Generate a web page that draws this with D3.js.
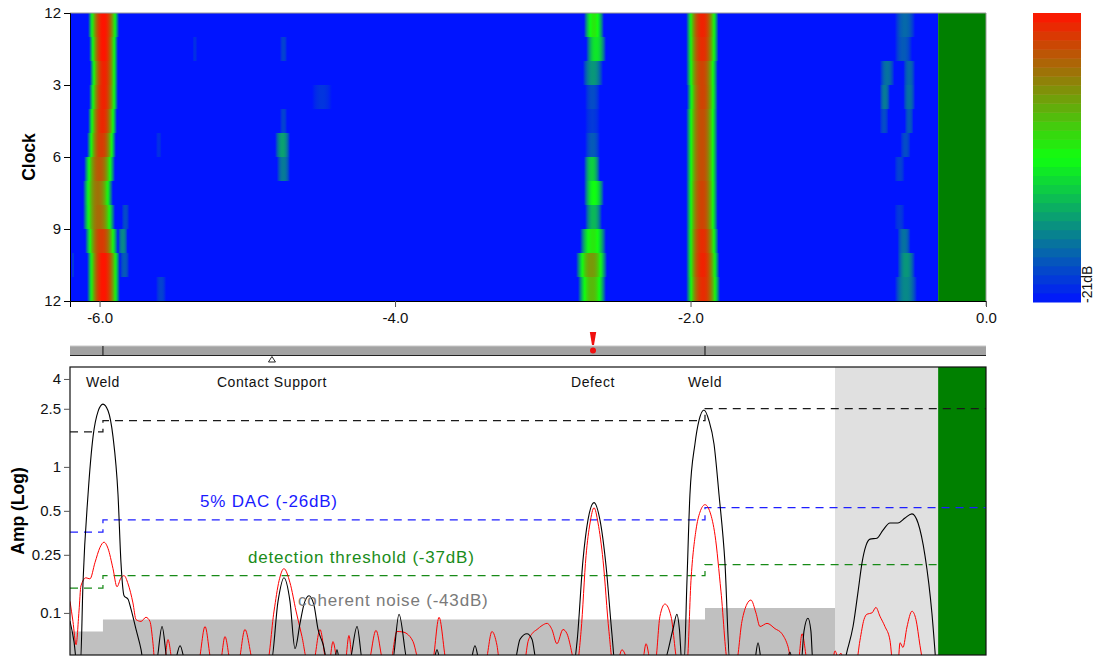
<!DOCTYPE html>
<html><head><meta charset="utf-8">
<script src="https://cdn.jsdelivr.net/npm/d3@7"></script>
<style>
body{margin:0;background:#fff}
svg text{font-family:"Liberation Sans",Arial,sans-serif}
</style></head>
<body><svg id="chart" width="1096" height="657"></svg>
<script>
// ---------------- data ----------------
const distTicks = [-6, -4, -2, 0];
const clockTickPos = [0, 3, 6, 9, 12];
const clockTickLabels = ["12", "3", "6", "9", "12"];
const ampTicks = [4, 2.5, 1, 0.5, 0.25, 0.1];
const ampTickLabels = ["4", "2.5", "1", "0.5", "0.25", "0.1"];

// heat-map blobs per clock row: [row, start, end, peak level 0..1]
const weld1Blobs = [
  [0,-6.078,-5.868,1.0],[1,-6.071,-5.875,1.0],[2,-6.065,-5.875,0.97],[3,-6.071,-5.875,0.97],
  [4,-6.078,-5.882,0.96],[5,-6.085,-5.889,0.92],[6,-6.105,-5.895,0.86],[7,-6.112,-5.909,0.8],
  [8,-6.112,-5.895,0.82],[9,-6.098,-5.875,0.92],[10,-6.085,-5.862,1.0],[11,-6.085,-5.862,1.0]
];
const weld2Blobs = [
  [0,-2.030,-1.810,0.97],[1,-2.030,-1.810,0.95],[2,-2.030,-1.815,0.9],[3,-2.025,-1.815,0.9],
  [4,-2.030,-1.815,0.88],[5,-2.030,-1.815,0.88],[6,-2.030,-1.815,0.88],[7,-2.030,-1.815,0.9],
  [8,-2.030,-1.815,0.9],[9,-2.030,-1.810,0.95],[10,-2.030,-1.805,0.97],[11,-2.030,-1.800,0.95]
];
const defectBlobs = [
  [0,-2.721,-2.586,0.55],[1,-2.707,-2.572,0.45],[2,-2.728,-2.592,0.28],[3,-2.714,-2.613,0.12],
  [4,-2.714,-2.613,0.08],[5,-2.714,-2.613,0.15],[6,-2.721,-2.613,0.4],[7,-2.721,-2.586,0.5],
  [8,-2.714,-2.599,0.35],[9,-2.748,-2.572,0.55],[10,-2.775,-2.565,0.72],[11,-2.762,-2.572,0.65]
];
const faintBlobs = [
  [0,-0.617,-0.480,0.18],
  [1,-4.779,-4.731,0.1],[1,-5.37,-5.34,0.06],[1,-0.617,-0.500,0.15],
  [2,-0.718,-0.620,0.2],[2,-0.560,-0.480,0.18],
  [3,-4.562,-4.427,0.07],[3,-0.720,-0.650,0.22],[3,-0.560,-0.480,0.2],
  [4,-4.779,-4.731,0.1],[4,-0.720,-0.660,0.12],[4,-0.550,-0.490,0.15],
  [5,-4.812,-4.711,0.3],[5,-5.618,-5.580,0.06],[5,-0.580,-0.510,0.12],
  [6,-4.800,-4.711,0.22],[6,-0.620,-0.550,0.1],
  [8,-5.850,-5.800,0.12],[8,-0.620,-0.550,0.08],
  [9,-5.875,-5.810,0.25],[9,-0.600,-0.510,0.2],
  [10,-5.862,-5.800,0.15],[10,-0.600,-0.480,0.28],[10,-6.190,-6.170,0.08],
  [11,-5.618,-5.550,0.1],[11,-0.617,-0.467,0.25]
];
const heatStart = -6.2, deadZoneStart = -0.324, heatEnd = 0;

// amplitude traces [distance, amplitude]
const blackTrace = [
  [-6.2,0.088],[-6.173,0.0636],[-6.153,0.045],[-6.129,0.045],[-6.112,0.161],[-6.078,0.645],
  [-6.044,1.61],[-6.010,2.40],[-5.977,2.69],[-5.943,2.43],[-5.909,1.61],[-5.875,0.645],
  [-5.855,0.221],[-5.834,0.131],[-5.807,0.124],[-5.787,0.106],[-5.753,0.077],[-5.719,0.056],
  [-5.702,0.045],[-5.618,0.045],[-5.577,0.0807],[-5.537,0.045],[-5.496,0.045],[-5.455,0.0596],
  [-5.415,0.045],[-4.840,0.045],[-4.792,0.120],[-4.752,0.174],[-4.711,0.120],[-4.677,0.0569],
  [-4.643,0.085],[-4.616,0.115],[-4.582,0.131],[-4.548,0.112],[-4.521,0.077],[-4.488,0.0615],
  [-4.454,0.045],[-4.413,0.045],[-4.393,0.056],[-4.372,0.045],[-4.312,0.045],[-4.257,0.0807],
  [-4.217,0.045],[-4.020,0.045],[-3.973,0.098],[-3.912,0.045],[-3.743,0.045],[-3.716,0.056],
  [-3.689,0.045],[-3.493,0.045],[-3.459,0.0596],[-3.425,0.045],[-3.195,0.045],[-3.154,0.066],
  [-3.107,0.072],[-3.073,0.066],[-3.039,0.045],[-2.789,0.045],[-2.768,0.0636],[-2.728,0.229],
  [-2.694,0.433],[-2.653,0.569],[-2.613,0.433],[-2.572,0.211],[-2.532,0.072],[-2.511,0.045],
  [-2.186,0.045],[-2.119,0.077],[-2.092,0.098],[-2.075,0.077],[-2.058,0.045],[-2.044,0.045],
  [-2.024,0.166],[-2.004,0.645],[-1.970,1.435],[-1.943,2.07],[-1.909,2.45],[-1.875,2.07],
  [-1.841,1.435],[-1.807,0.645],[-1.767,0.221],[-1.733,0.045],[-1.570,0.045],[-1.543,0.0625],
  [-1.516,0.045],[-1.354,0.045],[-1.327,0.054],[-1.306,0.045],[-1.252,0.045],[-1.232,0.075],
  [-1.205,0.092],[-1.185,0.075],[-1.171,0.045],[-0.968,0.045],[-0.934,0.058],[-0.900,0.0807],
  [-0.866,0.14],[-0.839,0.221],[-0.812,0.29],[-0.785,0.32],[-0.738,0.325],[-0.697,0.369],
  [-0.650,0.413],[-0.596,0.413],[-0.548,0.447],[-0.501,0.477],[-0.460,0.413],[-0.413,0.247],
  [-0.366,0.0995],[-0.339,0.045]
];
const redTrace = [
  [-6.2,0.12],[-6.180,0.0875],[-6.159,0.0606],[-6.139,0.103],[-6.126,0.153],[-6.092,0.174],
  [-6.065,0.171],[-6.031,0.221],[-5.997,0.281],[-5.970,0.305],[-5.943,0.277],[-5.909,0.201],
  [-5.882,0.151],[-5.855,0.174],[-5.834,0.180],[-5.807,0.158],[-5.774,0.117],[-5.753,0.090],
  [-5.719,0.0875],[-5.686,0.0933],[-5.659,0.0875],[-5.638,0.0615],[-5.625,0.045],[-5.564,0.045],
  [-5.537,0.0657],[-5.503,0.045],[-5.334,0.045],[-5.286,0.0807],[-5.239,0.045],[-5.185,0.045],
  [-5.151,0.0689],[-5.110,0.045],[-5.063,0.045],[-5.016,0.077],[-4.955,0.045],[-4.867,0.045],
  [-4.819,0.103],[-4.785,0.166],[-4.752,0.201],[-4.711,0.161],[-4.670,0.103],[-4.630,0.0689],
  [-4.589,0.045],[-4.555,0.045],[-4.508,0.077],[-4.461,0.045],[-4.447,0.045],[-4.420,0.0636],
  [-4.386,0.045],[-4.339,0.045],[-4.312,0.070],[-4.285,0.045],[-4.183,0.045],[-4.129,0.0759],
  [-4.075,0.045],[-4.034,0.045],[-3.987,0.0746],[-3.946,0.074],[-3.919,0.072],[-3.878,0.0636],
  [-3.831,0.045],[-3.750,0.045],[-3.702,0.0933],[-3.648,0.045],[-3.391,0.045],[-3.344,0.0746],
  [-3.310,0.060],[-3.290,0.045],[-3.127,0.045],[-3.100,0.0636],[-3.073,0.072],[-3.039,0.077],
  [-3.005,0.082],[-2.971,0.0848],[-2.938,0.077],[-2.904,0.0615],[-2.863,0.077],[-2.836,0.072],
  [-2.802,0.0525],[-2.789,0.045],[-2.768,0.045],[-2.741,0.0746],[-2.707,0.247],[-2.680,0.413],
  [-2.653,0.525],[-2.626,0.413],[-2.592,0.229],[-2.552,0.0746],[-2.525,0.045],[-2.498,0.045],
  [-2.464,0.056],[-2.410,0.045],[-2.328,0.045],[-2.301,0.0615],[-2.267,0.045],[-2.240,0.045],
  [-2.207,0.0948],[-2.173,0.115],[-2.132,0.0948],[-2.085,0.045],[-2.024,0.045],[-1.997,0.166],
  [-1.963,0.369],[-1.936,0.49],[-1.902,0.551],[-1.868,0.49],[-1.834,0.34],[-1.794,0.141],
  [-1.746,0.045],[-1.692,0.045],[-1.652,0.0875],[-1.618,0.115],[-1.591,0.1225],[-1.557,0.100],
  [-1.530,0.0807],[-1.482,0.0848],[-1.428,0.078],[-1.381,0.072],[-1.340,0.0587],[-1.313,0.045],
  [-1.273,0.045],[-1.245,0.072],[-1.205,0.045],[-1.042,0.045],[-1.022,0.055],[-1.002,0.050],
  [-0.982,0.053],[-0.961,0.045],[-0.880,0.045],[-0.853,0.065],[-0.826,0.090],[-0.806,0.098],
  [-0.772,0.100],[-0.745,0.109],[-0.718,0.095],[-0.684,0.0807],[-0.650,0.065],[-0.630,0.045],
  [-0.596,0.045],[-0.582,0.0625],[-0.562,0.058],[-0.535,0.080],[-0.501,0.1027],[-0.474,0.090],
  [-0.447,0.060],[-0.427,0.045]
];

// threshold step lines: level for each segment between segment bounds
const segBounds = [-6.2, -5.977, -1.902];
const refLevels = [1.74, 2.07, 2.51];        // reference (black dashed)
const dacLevels = [0.357, 0.433, 0.525];     // 5% DAC (-26dB)
const detectLevels = [0.148, 0.18, 0.214];   // detection threshold (-37dB)
const noiseLevels = [0.0746, 0.0903, 0.108]; // coherent noise (-43dB)
const noiseEnd = -1.022;

const featureNames = ["Weld", "Contact Support", "Defect", "Weld"];
const featurePos = [-5.977, -4.833, -2.660, -1.902];
const featureKinds = ["weld", "support", "defect", "weld"];

const thresholdLabels = ["5% DAC (-26dB)", "detection threshold (-37dB)", "coherent noise (-43dB)"];
const thresholdLabelX = [-5.320, -4.995, -4.657];
const colorbarLabel = "-21dB";

// ---------------- layout ----------------
const svg = d3.select("#chart");
const L = 70, R = 986;
const topY0 = 13, topY1 = 301;
const botY0 = 367, botY1 = 655;

const x = d3.scaleLinear().domain([-6.2, 0]).range([L, R]);
const yClock = d3.scaleLinear().domain([0, 12]).range([topY0, topY1]);
const yAmp = d3.scaleLog().domain([0.0515, 4.83]).range([botY1, botY0]);
const heatColor = d3.scaleLinear().domain([0, 0.5, 1]).range(["#0014ff", "#10ff10", "#ff1400"]);

const defs = svg.append("defs");

// ---------- top heat map ----------
const gTop = svg.append("g");
d3.range(12).forEach(r => {
  gTop.append("rect")
    .attr("x", x(heatStart)).attr("y", yClock(r))
    .attr("width", x(deadZoneStart) - x(heatStart)).attr("height", yClock(r + 1) - yClock(r))
    .attr("fill", heatColor(0));
});
const allBlobs = [...faintBlobs, ...defectBlobs, ...weld2Blobs, ...weld1Blobs];
const stops = d3.range(0, 1.0001, 0.04);
allBlobs.forEach((b, i) => {
  const [row, s, e, p] = b;
  const gid = "hb" + i;
  const grad = defs.append("linearGradient").attr("id", gid).attr("x1", "0").attr("x2", "1").attr("y1", "0").attr("y2", "0");
  stops.forEach(t => {
    const u = Math.abs(2 * t - 1);
    grad.append("stop").attr("offset", t).attr("stop-color", heatColor(p * (1 - Math.pow(u, 2.2))));
  });
  gTop.append("rect")
    .attr("x", x(s)).attr("y", yClock(row))
    .attr("width", x(e) - x(s)).attr("height", yClock(row + 1) - yClock(row))
    .attr("fill", `url(#${gid})`);
});
gTop.append("rect")
  .attr("x", x(deadZoneStart)).attr("y", topY0)
  .attr("width", x(heatEnd) - x(deadZoneStart)).attr("height", topY1 - topY0)
  .attr("fill", "#008000");
// frame top/right
svg.append("path").attr("d", `M${L},${topY0}H${R}V${topY1 + 5}`).attr("fill", "none").attr("stroke", "#999").attr("stroke-width", 1);

const axClock = svg.append("g").attr("transform", `translate(${L},0)`)
  .call(d3.axisLeft(yClock).tickValues(clockTickPos).tickFormat((d, i) => clockTickLabels[i]).tickSize(6).tickPadding(3));
const axDist = svg.append("g").attr("transform", `translate(0,${topY1})`)
  .call(d3.axisBottom(x).tickValues(distTicks).tickFormat(d => d.toFixed(1)).tickSize(6).tickPadding(5));
[axClock, axDist].forEach(a => {
  a.selectAll("text").attr("font-size", 15).attr("fill", "#111").style("font-family", '"Liberation Sans",Arial,sans-serif');
  a.select(".domain").attr("stroke", "#000");
});
axDist.selectAll(".tick line").attr("stroke", "#555");

svg.append("text").attr("transform", `translate(35,157) rotate(-90)`)
  .attr("text-anchor", "middle").attr("font-size", 17.5).attr("font-weight", "bold").text("Clock");

// ---------- colorbar ----------
const cbX = 1033, cbW = 48;
const cbScale = d3.scaleLinear().domain([0, 1]).range([302, 13]);
const nBands = 32;
d3.range(nBands).forEach(i => {
  const v0 = i / nBands, v1 = (i + 1) / nBands;
  svg.append("rect").attr("x", cbX).attr("width", cbW)
    .attr("y", cbScale(v1)).attr("height", cbScale(v0) - cbScale(v1) + 0.5)
    .attr("fill", heatColor((v0 + v1) / 2));
});
svg.append("text").attr("transform", `translate(1092,303) rotate(-90)`)
  .attr("font-size", 14).attr("fill", "#111").text(colorbarLabel);

// ---------- position bar ----------
const barY0 = 346, barY1 = 355.5;
svg.append("rect").attr("x", L).attr("y", barY0).attr("width", R - L).attr("height", barY1 - barY0).attr("fill", "#a2a2a2");
svg.append("line").attr("x1", L).attr("x2", R).attr("y1", barY0).attr("y2", barY0).attr("stroke", "#c8c8c8");
svg.append("line").attr("x1", L).attr("x2", R).attr("y1", barY1).attr("y2", barY1).attr("stroke", "#222");
featurePos.forEach((p, i) => {
  const k = featureKinds[i], cx = x(p);
  if (k === "weld") {
    svg.append("line").attr("x1", cx).attr("x2", cx).attr("y1", barY0).attr("y2", barY1).attr("stroke", "#111");
  } else if (k === "support") {
    svg.append("path").attr("d", `M${cx},${barY1 + 1}L${cx + 3.5},${barY1 + 6.5}L${cx - 3.5},${barY1 + 6.5}Z`)
      .attr("fill", "#fff").attr("stroke", "#111").attr("stroke-width", 0.9);
  } else {
    svg.append("path").attr("d", `M${cx - 3.2},${332}L${cx + 3.2},${332}L${cx + 1},${345}L${cx - 1},${345}Z`).attr("fill", "#f01010");
    svg.append("circle").attr("cx", cx).attr("cy", 350.5).attr("r", 3).attr("fill", "#f01010");
  }
});

// ---------- amplitude plot ----------
defs.append("clipPath").attr("id", "botClip").append("rect")
  .attr("x", L).attr("y", botY0).attr("width", R - L).attr("height", botY1 - botY0);
const gBot = svg.append("g").attr("clip-path", "url(#botClip)");

const stepPts = (levels, end) => {
  const pts = segBounds.map((b, i) => [b, levels[i]]);
  pts.push([end, levels[levels.length - 1]]);
  return pts;
};
const area = d3.area().curve(d3.curveStepAfter).x(d => x(d[0])).y0(botY1 + 5).y1(d => yAmp(d[1]));
gBot.append("path").datum(stepPts(noiseLevels, noiseEnd)).attr("d", area).attr("fill", "#c0c0c0");
gBot.append("rect").attr("x", x(noiseEnd)).attr("y", botY0).attr("width", x(deadZoneStart) - x(noiseEnd)).attr("height", botY1 - botY0).attr("fill", "#e0e0e0");
gBot.append("rect").attr("x", x(deadZoneStart)).attr("y", botY0).attr("width", x(heatEnd) - x(deadZoneStart)).attr("height", botY1 - botY0).attr("fill", "#008000");

const stepLine = d3.line().curve(d3.curveStepAfter).x(d => x(d[0])).y(d => yAmp(d[1]));
[[refLevels, 0, "#1a1a1a"], [dacLevels, 0, "#1f1fff"], [detectLevels, deadZoneStart, "#178a17"]].forEach(([lv, end, col]) => {
  gBot.append("path").datum(stepPts(lv, end)).attr("d", stepLine)
    .attr("fill", "none").attr("stroke", col).attr("stroke-width", 1.25).attr("stroke-dasharray", "8,6");
});

const trace = d3.line().curve(d3.curveMonotoneX).x(d => x(d[0])).y(d => yAmp(d[1]));
gBot.append("path").datum(redTrace).attr("d", trace).attr("fill", "none").attr("stroke", "#ff0000").attr("stroke-width", 1);
gBot.append("path").datum(blackTrace).attr("d", trace).attr("fill", "none").attr("stroke", "#000").attr("stroke-width", 1.1);

// feature labels
featurePos.forEach((p, i) => {
  svg.append("text").attr("x", x(p)).attr("y", 387).attr("text-anchor", "middle")
    .attr("font-size", 14).attr("letter-spacing", 0.6).attr("fill", "#111").text(featureNames[i]);
});
// threshold labels
const tlColors = ["#1a1aff", "#1a8c1a", "#7a7a7a"];
const tlY = [507, 563, 606];
thresholdLabels.forEach((t, i) => {
  svg.append("text").attr("x", x(thresholdLabelX[i])).attr("y", tlY[i])
    .attr("font-size", 17).attr("letter-spacing", 0.8).attr("fill", tlColors[i]).text(t);
});

// frame
svg.append("rect").attr("x", L).attr("y", botY0).attr("width", R - L).attr("height", botY1 - botY0)
  .attr("fill", "none").attr("stroke", "#111").attr("stroke-width", 1.2);
const axAmp = svg.append("g").attr("transform", `translate(${L},0)`)
  .call(d3.axisLeft(yAmp).tickValues(ampTicks).tickFormat((d, i) => ampTickLabels[i]).tickSize(6).tickPadding(3));
axAmp.selectAll("text").attr("font-size", 15).attr("fill", "#111").style("font-family", '"Liberation Sans",Arial,sans-serif');
axAmp.selectAll(".tick line").attr("stroke", "#555");
axAmp.select(".domain").remove();

svg.append("text").attr("transform", `translate(24,511) rotate(-90)`)
  .attr("text-anchor", "middle").attr("font-size", 17.5).attr("font-weight", "bold").text("Amp (Log)");
</script></body></html>
